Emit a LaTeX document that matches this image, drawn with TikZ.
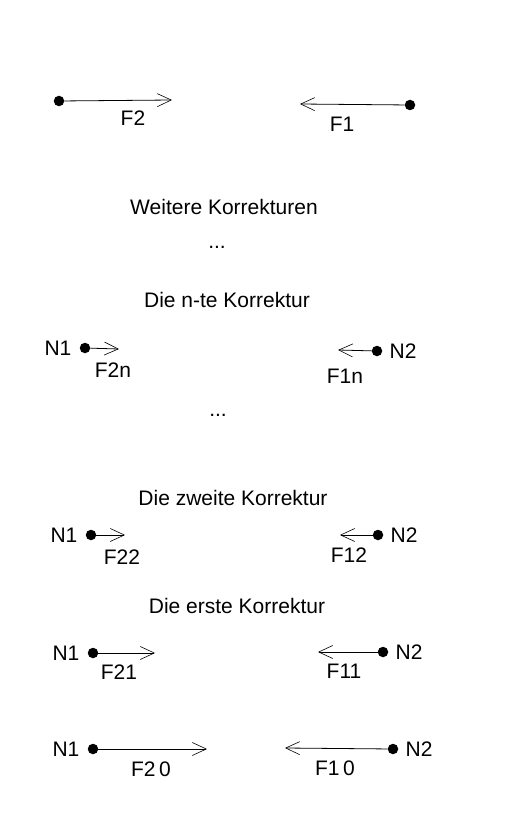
\documentclass[tikz,border=0pt]{standalone}
\usepackage{fontspec}
\setmainfont{Liberation Sans}
\usetikzlibrary{arrows.meta, positioning}

\begin{document}
\begin{tikzpicture}[
                x=1pt, y=-1pt,
                dot/.style={circle, fill=black, inner sep=0pt, minimum size=10.5pt},
                force/.style={-{Straight Barb[length=14pt, width=13pt, line width=0.6pt]}, line width=0.8pt},
                lbl/.style={font=\fontsize{21}{24}\selectfont, inner sep=0pt},
                title/.style={font=\fontsize{21}{24}\selectfont, inner sep=0pt}
            ]
                \useasboundingbox (0,0) rectangle (525,840);
                % initial forces
                \node[dot] (a1) at (59,101) {};
                \coordinate (a1tip) at (172,100);
                \node[dot] (a2) at (410,105) {};
                \coordinate (a2tip) at (300,104);
                \draw[force] (a1) -- (a1tip);
                \draw[force] (a2) -- (a2tip);
                \node[lbl] (fa1) at (133,118) {F2};
                \node[lbl] (fa2) at (342,124) {F1};

                \node[title] (weitere) at (224,207) {Weitere Korrekturen};
                \node[title] (dots1) at (217,247) {...};
                \node[title] (nte) at (227,300) {Die n-te Korrektur};

                % n-te Korrektur
                \node[dot] (n1) at (85,348) {};
                \node[lbl, left=8pt of n1] {N1};
                \coordinate (n1tip) at (119,349);
                \node[dot] (n2) at (377,351) {};
                \node[lbl, right=7pt of n2] {N2};
                \coordinate (n2tip) at (338,350);
                \draw[force] (n1) -- (n1tip);
                \draw[force] (n2) -- (n2tip);
                \node[lbl] (fn1) at (113,370) {F2n};
                \node[lbl] (fn2) at (345,376) {F1n};

                \node[title] (dots2) at (218,415) {...};
                \node[title] (zweite) at (233,498) {Die zweite Korrektur};

                % zweite Korrektur
                \node[dot] (z1) at (91,535) {};
                \node[lbl, left=8pt of z1] {N1};
                \coordinate (z1tip) at (125,535);
                \node[dot] (z2) at (378,535) {};
                \node[lbl, right=7pt of z2] {N2};
                \coordinate (z2tip) at (340,535);
                \draw[force] (z1) -- (z1tip);
                \draw[force] (z2) -- (z2tip);
                \node[lbl] (fz1) at (122,557) {F22};
                \node[lbl] (fz2) at (349,555) {F12};

                \node[title] (erste) at (237,606) {Die erste Korrektur};

                % erste Korrektur
                \node[dot] (e1) at (93,653) {};
                \node[lbl, left=8pt of e1] {N1};
                \coordinate (e1tip) at (155,653);
                \node[dot] (e2) at (383,652) {};
                \node[lbl, right=7pt of e2] {N2};
                \coordinate (e2tip) at (318,652);
                \draw[force] (e1) -- (e1tip);
                \draw[force] (e2) -- (e2tip);
                \node[lbl] (fe1) at (119,672) {F21};
                \node[lbl] (fe2) at (344,671) {F11};

                % ohne Korrektur
                \node[dot] (o1) at (93,749) {};
                \node[lbl, left=8pt of o1] {N1};
                \coordinate (o1tip) at (207,749);
                \node[dot] (o2) at (393,749) {};
                \node[lbl, right=7pt of o2] {N2};
                \coordinate (o2tip) at (285,748);
                \draw[force] (o1) -- (o1tip);
                \draw[force] (o2) -- (o2tip);
                \node[lbl] (fo1) at (151,769) {F2\,0};
                \node[lbl] (fo2) at (335,768) {F1\,0};
            \end{tikzpicture}
\end{document}
